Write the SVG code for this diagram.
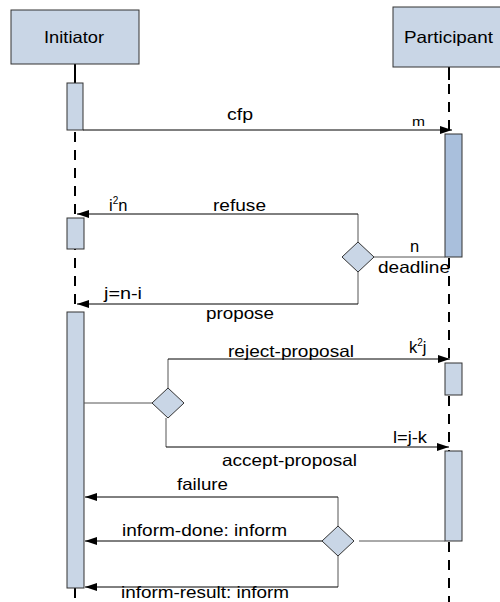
<svg xmlns="http://www.w3.org/2000/svg" width="500" height="602" viewBox="0 0 500 602">
<style>
.box{fill:#c9d6e6;stroke:#333;stroke-width:1}
.act{fill:#c9d6e6;stroke:#333;stroke-width:1}
.actd{fill:#a9bfdc;stroke:#333;stroke-width:1}
.life{stroke:#000;stroke-width:2;fill:none}
.dash{stroke:#000;stroke-width:2;stroke-dasharray:10 8;fill:none}
.msg{stroke:#000;stroke-width:1;fill:none}
.br{stroke:#555;stroke-width:1;fill:none}
.dia{fill:#c9d6e6;stroke:#333;stroke-width:1}
text{font-family:"Liberation Sans",Arial,sans-serif;font-size:16.5px;fill:#000}
.sm{font-size:13px}
</style>
<defs>
<marker id="ah" markerWidth="12" markerHeight="8" refX="12" refY="4" orient="auto" markerUnits="userSpaceOnUse">
<path d="M0,0 L12,4 L0,8 Z" fill="#000"/>
</marker>
</defs>
<rect width="500" height="602" fill="#fff"/>
<g id="lifelines">
<line class="life" x1="75" y1="64" x2="75" y2="83"/>
<line class="dash" x1="75" y1="132" x2="75" y2="312"/>
<line class="dash" x1="75" y1="588" x2="75" y2="602"/>
<line class="life" x1="449" y1="67" x2="449" y2="80"/>
<line class="dash" x1="449" y1="84" x2="449" y2="134"/>
<line class="dash" x1="449" y1="258" x2="449" y2="363"/>
<line class="dash" x1="449" y1="396" x2="449" y2="451"/>
<line class="dash" x1="449" y1="542" x2="449" y2="602"/>
</g>
<g id="initiator">
<rect class="box" x="11" y="10" width="128" height="54"/>
<text x="44" y="43" textLength="60" lengthAdjust="spacingAndGlyphs">Initiator</text>
</g>
<g id="participant">
<rect class="box" x="393" y="7" width="110" height="60"/>
<text x="404" y="43" textLength="89" lengthAdjust="spacingAndGlyphs">Participant</text>
</g>
<g id="activations">
<rect class="act" x="67" y="83" width="16" height="47"/>
<rect class="act" x="67" y="218" width="17" height="31"/>
<rect class="act" x="67" y="312" width="17" height="276"/>
<rect class="actd" x="445" y="134" width="17" height="123"/>
<rect class="act" x="445" y="363" width="17" height="32"/>
<rect class="act" x="445" y="451" width="17" height="90"/>
</g>
<g id="decisions">
<polygon class="dia" points="358,242 374,257 358,272 342,257"/>
<polygon class="dia" points="168,388 184,403 168,418 152,403"/>
<polygon class="dia" points="338,526 354,541 338,556 322,541"/>
</g>
<g id="connectors">
<line class="msg" x1="83" y1="130" x2="452" y2="130" marker-end="url(#ah)"/>
<line class="br" x1="358" y1="214" x2="358" y2="242"/>
<line class="msg" x1="358" y1="214" x2="77" y2="214" marker-end="url(#ah)"/>
<line class="br" x1="374" y1="257" x2="445" y2="257"/>
<line class="br" x1="358" y1="272" x2="358" y2="304"/>
<line class="msg" x1="358" y1="304" x2="77" y2="304" marker-end="url(#ah)"/>
<line class="br" x1="84" y1="403" x2="152" y2="403"/>
<line class="br" x1="168" y1="359" x2="168" y2="388"/>
<line class="msg" x1="168" y1="359" x2="450" y2="359" marker-end="url(#ah)"/>
<line class="br" x1="166" y1="418" x2="166" y2="447"/>
<line class="msg" x1="166" y1="447" x2="449" y2="447" marker-end="url(#ah)"/>
<line class="br" x1="338" y1="497" x2="338" y2="526"/>
<line class="msg" x1="338" y1="497" x2="85" y2="497" marker-end="url(#ah)"/>
<line class="msg" x1="322" y1="541" x2="85" y2="541" marker-end="url(#ah)"/>
<line class="br" x1="359" y1="541" x2="445" y2="541"/>
<line class="br" x1="338" y1="556" x2="338" y2="587"/>
<line class="msg" x1="338" y1="587" x2="85" y2="587" marker-end="url(#ah)"/>
</g>
<g id="labels">
<text x="227" y="120" textLength="26" lengthAdjust="spacingAndGlyphs">cfp</text>
<text x="412" y="126" class="sm" textLength="13" lengthAdjust="spacingAndGlyphs">m</text>
<text x="213" y="211" textLength="53" lengthAdjust="spacingAndGlyphs">refuse</text>
<text x="109" y="211">i<tspan font-size="10" dy="-7">2</tspan><tspan dy="7">n</tspan></text>
<text x="410" y="252">n</text>
<text x="378" y="273" textLength="72" lengthAdjust="spacingAndGlyphs">deadline</text>
<text x="104" y="299" textLength="38" lengthAdjust="spacingAndGlyphs">j=n-i</text>
<text x="206" y="319" textLength="68" lengthAdjust="spacingAndGlyphs">propose</text>
<text x="228" y="357" textLength="126" lengthAdjust="spacingAndGlyphs">reject-proposal</text>
<text x="409" y="353">k<tspan font-size="10" dy="-7">2</tspan><tspan dy="7">j</tspan></text>
<text x="393" y="443" textLength="34" lengthAdjust="spacingAndGlyphs">l=j-k</text>
<text x="222" y="466" textLength="135" lengthAdjust="spacingAndGlyphs">accept-proposal</text>
<text x="177" y="490" textLength="51" lengthAdjust="spacingAndGlyphs">failure</text>
<text x="122" y="536" textLength="165" lengthAdjust="spacingAndGlyphs">inform-done: inform</text>
<text x="121" y="598" textLength="168" lengthAdjust="spacingAndGlyphs">inform-result: inform</text>
</g>
</svg>
